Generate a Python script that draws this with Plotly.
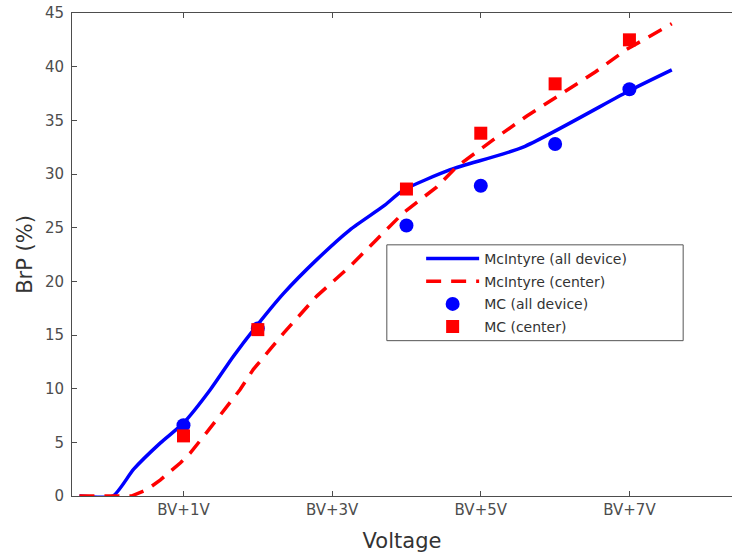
import plotly.graph_objects as go

# McIntyre model curves (x in volts above breakdown)
mcintyre_all_x = [-0.4, 0.05, 0.33, 0.69, 1.0, 1.36, 1.67, 1.99, 2.35, 2.79, 3.24, 3.69, 3.96, 4.59, 5.57, 7.01, 7.57]
mcintyre_all_y = [0, 0, 2.5, 4.95, 6.8, 9.9, 13.0, 15.9, 18.9, 22.0, 24.8, 27.0, 28.5, 30.4, 32.5, 37.8, 39.7]

mcintyre_center_x = [-0.4, 0.3, 0.51, 0.69, 0.96, 1.09, 1.31, 1.76, 1.94, 2.35, 2.79, 3.24, 3.60, 3.96, 4.41, 4.68, 5.17, 5.62, 6.54, 6.96, 7.57]
mcintyre_center_y = [0, 0, 0.6, 1.5, 3.1, 4.0, 5.9, 9.9, 11.8, 15.2, 18.6, 21.4, 23.9, 26.4, 28.8, 30.7, 33.2, 35.4, 39.5, 41.6, 44.0]

# Monte Carlo points
mc_x = [1, 2, 4, 5, 6, 7]
mc_all = [6.6, 15.6, 25.2, 28.9, 32.8, 37.9]
mc_center = [5.6, 15.5, 28.6, 33.8, 38.4, 42.5]

tick_vals = [1, 3, 5, 7]
tick_text = ["BV+1V", "BV+3V", "BV+5V", "BV+7V"]

FONT = "DejaVu Sans"
AXC = "#4d4d4d"

fig = go.Figure()
fig.add_trace(go.Scatter(x=mcintyre_all_x, y=mcintyre_all_y, mode="lines",
                         name="McIntyre (all device)", legendgroup="a",
                         line=dict(color="#0000ff", width=3.5, shape="spline", smoothing=0.6)))
fig.add_trace(go.Scatter(x=mcintyre_center_x, y=mcintyre_center_y, mode="lines",
                         name="McIntyre (center)", legendgroup="b",
                         line=dict(color="#ff0000", width=3.5, dash="15px,10px")))
fig.add_trace(go.Scatter(x=mc_x, y=mc_all, mode="markers",
                         name="MC (all device)", legendgroup="c",
                         marker=dict(color="#0000ff", size=14, symbol="circle")))
fig.add_trace(go.Scatter(x=mc_x, y=mc_center, mode="markers",
                         name="MC (center)", legendgroup="d",
                         marker=dict(color="#ff0000", size=13, symbol="square")))

# legend frame
fig.add_shape(type="rect", xref="paper", yref="paper",
              x0=0.477, x1=0.926, y0=0.3216, y1=0.520,
              line=dict(color="#555555", width=1), fillcolor="white", layer="above")

fig.update_layout(
    width=732, height=557,
    margin=dict(l=72, r=0, t=13, b=60.5, autoexpand=False),
    paper_bgcolor="white", plot_bgcolor="white",
    font=dict(family=FONT, color=AXC, size=15),
    showlegend=True,
    legend=dict(x=0.529, y=0.524, xanchor="left", yanchor="top",
                borderwidth=0, bgcolor="rgba(0,0,0,0)",
                font=dict(family=FONT, size=14, color="#333333"),
                itemwidth=53, tracegroupgap=1.5),
    xaxis=dict(range=[-0.5, 8.38], tickvals=tick_vals, ticktext=tick_text,
               showgrid=False, zeroline=False, showline=True, linecolor=AXC,
               linewidth=1, mirror="ticks", ticks="inside", ticklen=5, tickcolor=AXC,
               tickfont=dict(size=15, color=AXC), automargin=False,
               title=dict(text="Voltage", font=dict(size=21, color="#333333"))),
    yaxis=dict(range=[0, 45], tickvals=list(range(0, 50, 5)),
               showgrid=False, zeroline=False, showline=True, linecolor=AXC,
               linewidth=1, ticks="inside", ticklen=5, tickcolor=AXC,
               tickfont=dict(size=15, color=AXC), ticklabelstandoff=4, automargin=False,
               title=dict(text="BrP (%)", font=dict(size=21, color="#333333"), standoff=6)),
)

fig.write_html("out.html", config={"displayModeBar": False},
               post_script="document.body.style.margin='0';document.body.style.overflow='hidden';")
